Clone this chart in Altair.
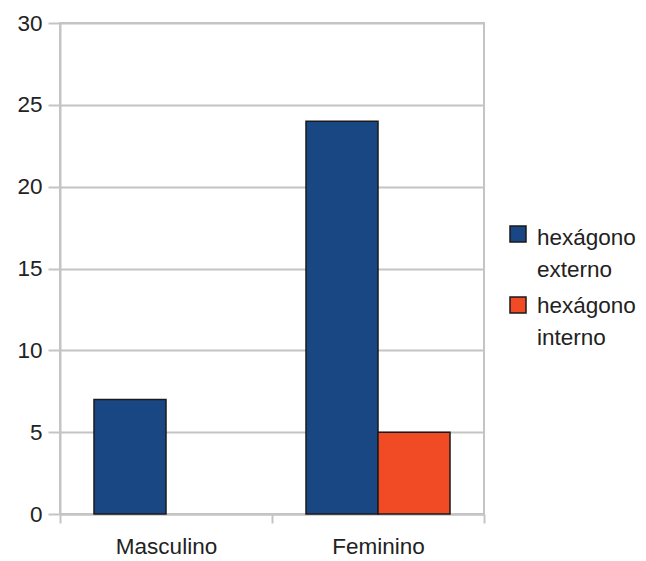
import altair as alt
import pandas as pd

categories = ["Masculino", "Masculino", "Feminino", "Feminino"]
series = ["hexágono externo", "hexágono interno", "hexágono externo", "hexágono interno"]
values = [7, 0, 24, 5]

series_names = ["hexágono externo", "hexágono interno"]
series_colors = ["#194784", "#f04b24"]

df = pd.DataFrame({"sexo": categories, "serie": series, "valor": values})

grid = "#c4c4c4"
font = "Liberation Sans"
fs = 22.5

bars = alt.Chart(df).transform_filter("datum.valor > 0").mark_bar(stroke="#1a1a1a", strokeWidth=1.5).encode(
    x=alt.X("sexo:N", sort=["Masculino", "Feminino"],
            scale=alt.Scale(paddingInner=0, paddingOuter=0),
            axis=alt.Axis(title=None, labelAngle=0, tickBand="extent", grid=False,
                          domainColor=grid, tickColor=grid, tickSize=9, tickWidth=2, domainWidth=2,
                          labelFont=font, labelFontSize=fs, labelColor="#222222", labelPadding=12)),
    xOffset=alt.XOffset("serie:N", scale=alt.Scale(domain=series_names, paddingInner=0, paddingOuter=0.4722)),
    y=alt.Y("valor:Q", scale=alt.Scale(domain=[0, 30]),
            axis=alt.Axis(title=None, values=[0, 5, 10, 15, 20, 25, 30], gridColor=grid, gridWidth=2,
                          domainColor=grid, domainWidth=2, tickColor=grid, tickSize=12, tickWidth=2,
                          labelFont=font, labelFontSize=fs, labelColor="#222222", labelPadding=6)),
    color=alt.Color("serie:N", scale=alt.Scale(domain=series_names, range=series_colors), legend=None)
)

legend_layers = []
sym_y = [211, 282]
txt_y = [222, 290]
for i, name in enumerate(series_names):
    ldf = pd.DataFrame({"label": [name]})
    sym = alt.Chart(ldf).mark_square(size=256, color=series_colors[i], stroke="#1a1a1a",
                                      strokeWidth=1.5, opacity=1).encode(
        x=alt.value(458), y=alt.value(sym_y[i]))
    txt = alt.Chart(ldf).mark_text(align="left", baseline="alphabetic", lineBreak=" ", lineHeight=32,
                                   font=font, fontSize=fs, color="#222222").encode(
        x=alt.value(477), y=alt.value(txt_y[i]), text="label:N")
    legend_layers += [sym, txt]

chart = alt.layer(bars, *legend_layers).properties(
    width=424, height=491,
    autosize=alt.AutoSizeParams(type="none"),
    padding={"left": 52, "top": 15, "right": 154, "bottom": 47}
).configure_view(stroke=grid, strokeWidth=2)

chart.save("out.html", embed_options={"renderer": "svg", "actions": False})
